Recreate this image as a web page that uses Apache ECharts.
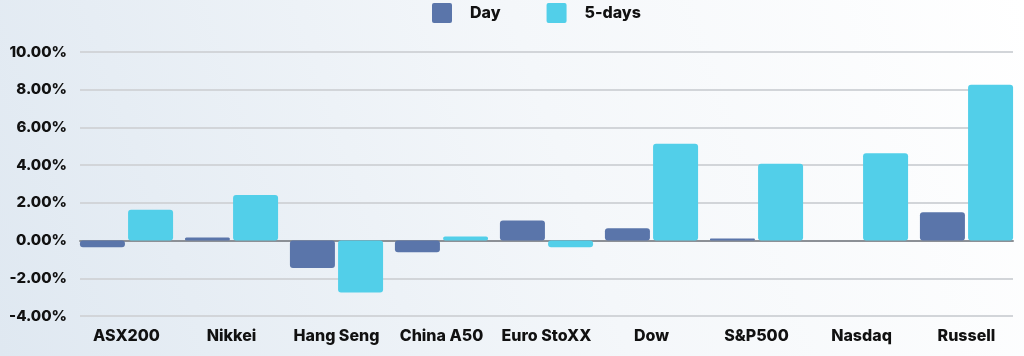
<!DOCTYPE html>
<html>
<head>
<meta charset="utf-8">
<script src="https://cdn.jsdelivr.net/npm/echarts@6/dist/echarts.min.js"></script>
<style>
html,body{margin:0;padding:0;}
#c{width:1024px;height:356px;}
</style>
</head>
<body>
<div id="c"></div>
<script>
const categories = ['ASX200','Nikkei','Hang Seng','China A50','Euro StoXX','Dow','S&P500','Nasdaq','Russell'];
const dayValues = [-0.35, 0.16, -1.46, -0.62, 1.06, 0.66, 0.11, 0.01, 1.50];
const fiveDayValues = [1.63, 2.42, -2.76, 0.21, -0.35, 5.13, 4.08, 4.63, 8.26];
const seriesNames = ['Day', '5-days'];
const yMin = -4, yMax = 10, yInterval = 2;

const FONT = 'Inter';
const ICON = 'path://M2,0 L18,0 Q20,0 20,2 L20,18 Q20,20 18,20 L2,20 Q0,20 0,18 L0,2 Q0,0 2,0 Z';
const chart = echarts.init(document.getElementById('c'), null, {renderer:'canvas'});
chart.setOption({
  animation: false,
  backgroundColor: {
    type: 'linear', x: 0, y: 1, x2: 1, y2: 0,
    colorStops: [{offset:0, color:'#dfe8f1'},{offset:0.55, color:'#f4f7fa'},{offset:1, color:'#ffffff'}]
  },
  legend: {
    top: -2, left: 427,
    itemWidth: 20, itemHeight: 20, itemGap: 46,
    icon: ICON,
    textStyle: {fontFamily: FONT, fontWeight: 800, fontSize: 16, color: '#111', padding: [0,0,0,13]},
    data: seriesNames
  },
  grid: [
    {left: 80, right: 11, top: 52, bottom: 40},
    {left: 74, right: 5, top: 52, bottom: 40}
  ],
  xAxis: [
    {gridIndex: 0, type: 'category', data: categories,
     axisLine: {show: true, onZero: true, lineStyle: {color: '#8c9096', width: 2}},
     axisTick: {show: false}, axisLabel: {show: false}},
    {gridIndex: 1, type: 'category', data: categories,
     axisLine: {show: false}, axisTick: {show: false},
     axisLabel: {show: true, interval: 0, margin: 12, fontFamily: FONT, fontWeight: 800, fontSize: 16, color: '#111'}}
  ],
  yAxis: [
    {gridIndex: 0, type: 'value', min: yMin, max: yMax, interval: yInterval,
     axisLine: {show: false}, axisTick: {show: false},
     axisLabel: {margin: 13, fontFamily: FONT, fontWeight: 800, fontSize: 15, color: '#111',
                 formatter: v => v.toFixed(2) + '%'},
     splitLine: {lineStyle: {color: '#d2d5d9', width: 2}}},
    {gridIndex: 1, type: 'value', min: yMin, max: yMax, interval: yInterval,
     show: false, splitLine: {show: false}}
  ],
  series: [
    {name: seriesNames[0], type: 'bar', xAxisIndex: 1, yAxisIndex: 1, data: dayValues,
     barWidth: 45, barGap: '7%', itemStyle: {color: '#5a75aa', borderRadius: 3}},
    {name: seriesNames[1], type: 'bar', xAxisIndex: 1, yAxisIndex: 1, data: fiveDayValues,
     barWidth: 45, barGap: '7%', itemStyle: {color: '#52cfe9', borderRadius: 3}}
  ]
});
</script>
</body>
</html>
